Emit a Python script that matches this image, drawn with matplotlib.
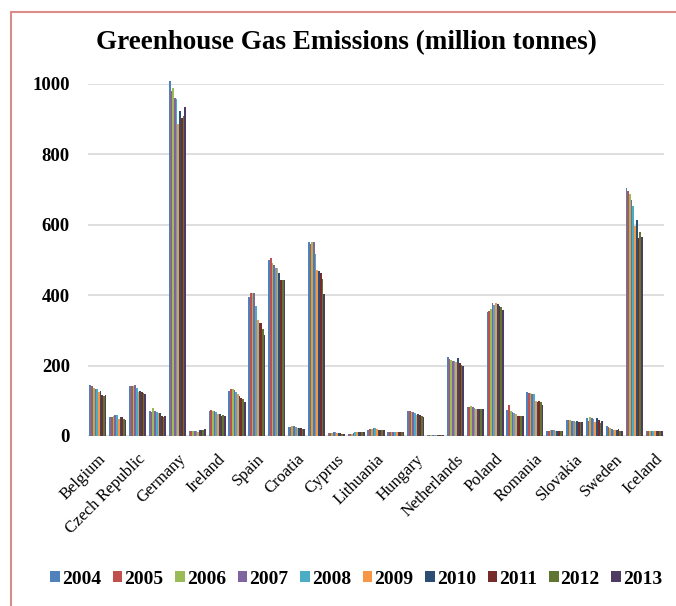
import numpy as np
import matplotlib
matplotlib.use('Agg')
import matplotlib.pyplot as plt
from matplotlib.patches import Rectangle

countries = ['Belgium', 'Bulgaria', 'Czech Republic', 'Denmark', 'Germany', 'Estonia',
             'Ireland', 'Greece', 'Spain', 'France', 'Croatia', 'Italy', 'Cyprus',
             'Latvia', 'Lithuania', 'Luxembourg', 'Hungary', 'Malta', 'Netherlands',
             'Austria', 'Poland', 'Portugal', 'Romania', 'Slovenia', 'Slovakia',
             'Finland', 'Sweden', 'United Kingdom', 'Iceland']
years = ['2004', '2005', '2006', '2007', '2008', '2009', '2010', '2011', '2012', '2013']

# million tonnes, one list per year, same order as countries
y2004 = [146, 55, 142, 72, 1008, 15, 72, 127, 395, 500, 25, 550, 8, 6, 18, 12, 72, 3, 224, 82, 353, 74, 124, 15, 46, 50, 28, 704, 15]
y2005 = [142, 55, 141, 68, 980, 15, 74, 133, 407, 506, 26, 545, 9, 6, 19, 12, 70, 3, 220, 83, 354, 88, 122, 15, 45, 43, 25, 697, 15]
y2006 = [136, 58, 143, 80, 988, 14, 72, 133, 405, 491, 27, 550, 9, 7, 20, 12, 69, 3, 216, 85, 360, 70, 122, 16, 45, 53, 22, 688, 15]
y2007 = [134, 61, 144, 71, 960, 15, 70, 130, 405, 485, 27, 552, 10, 8, 22, 12, 67, 3, 214, 83, 379, 68, 120, 16, 44, 52, 21, 671, 15]
y2008 = [133, 59, 136, 69, 957, 14, 69, 125, 369, 477, 26, 516, 10, 10, 22, 12, 65, 3, 214, 80, 372, 64, 118, 17, 44, 48, 18, 652, 15]
y2009 = [125, 49, 125, 66, 885, 12, 63, 118, 329, 477, 23, 471, 9, 10, 19, 11, 61, 3, 210, 77, 379, 62, 100, 15, 40, 40, 16, 597, 14]
y2010 = [128, 53, 127, 64, 923, 16, 62, 114, 322, 462, 22, 468, 9, 12, 18, 12, 62, 3, 222, 77, 375, 58, 96, 15, 42, 50, 18, 614, 14]
y2011 = [117, 54, 124, 58, 902, 16, 58, 109, 322, 443, 22, 464, 8, 12, 18, 12, 60, 3, 208, 76, 370, 57, 100, 15, 41, 45, 20, 562, 14]
y2012 = [114, 49, 121, 55, 910, 17, 59, 104, 305, 443, 20, 445, 7, 12, 17, 11, 58, 3, 203, 77, 366, 56, 96, 14, 39, 38, 15, 580, 14]
y2013 = [116, 46, 119, 56, 936, 20, 58, 97, 288, 443, 19, 402, 6, 12, 17, 11, 55, 3, 200, 77, 358, 56, 88, 14, 39, 44, 14, 566, 14]

series = [y2004, y2005, y2006, y2007, y2008, y2009, y2010, y2011, y2012, y2013]
colors = ['#4F81BD', '#C0504D', '#9BBB59', '#8064A2', '#4BACC6',
          '#F79646', '#2C4D75', '#772C2A', '#5F7530', '#4D3B62']

serif = ['Liberation Serif', 'DejaVu Serif']

fig = plt.figure(figsize=(6.76, 6.06), dpi=100)
ax = fig.add_axes([88/676, 1 - 436/606, 576/676, 352/606])

x = np.arange(len(countries))
n = len(series)
w = 0.86 / n
for i, (vals, year) in enumerate(zip(series, years)):
    ax.bar(x - 0.43 + w*(i + 0.5), vals, w, color=colors[i], label=year,
           linewidth=0, clip_on=False, zorder=2)

ax.set_xlim(-0.5, len(countries) - 0.5)
ax.set_ylim(0, 1000)
ax.set_yticks(range(0, 1001, 200))
ax.grid(axis='y', color='#D9D9D9', linewidth=1.2, zorder=0)
for s in ax.spines.values():
    s.set_visible(False)
ax.tick_params(length=0)
ax.tick_params(axis='y', pad=13)
for lab in ax.get_yticklabels():
    lab.set_fontfamily(serif)
    lab.set_fontweight('bold')
    lab.set_fontsize(13.5)

# Excel only had room for every other category label
ax.set_xticks(x[::2])
ax.set_xticklabels(countries[::2], rotation=45, ha='right', va='top',
                   rotation_mode='anchor', family=serif, fontsize=12)
ax.tick_params(axis='x', pad=11)

fig.text(0.513, 1 - 43/606, 'Greenhouse Gas Emissions (million tonnes)',
         ha='center', va='center', family=serif, fontweight='bold', fontsize=19.5)

leg = fig.legend(loc='center', bbox_to_anchor=(0.527, 1 - 579/606), ncol=10,
                 frameon=False, handlelength=0.5, handleheight=0.5,
                 handletextpad=0.1, columnspacing=0.6,
                 prop={'family': serif, 'weight': 'bold', 'size': 14})

fig.add_artist(Rectangle((11/676, -0.05), 1.1, 1 - 12/606 + 0.05,
                         transform=fig.transFigure, fill=False,
                         edgecolor='#D98C8A', linewidth=1.5))

fig.savefig('out.png', dpi=100)
